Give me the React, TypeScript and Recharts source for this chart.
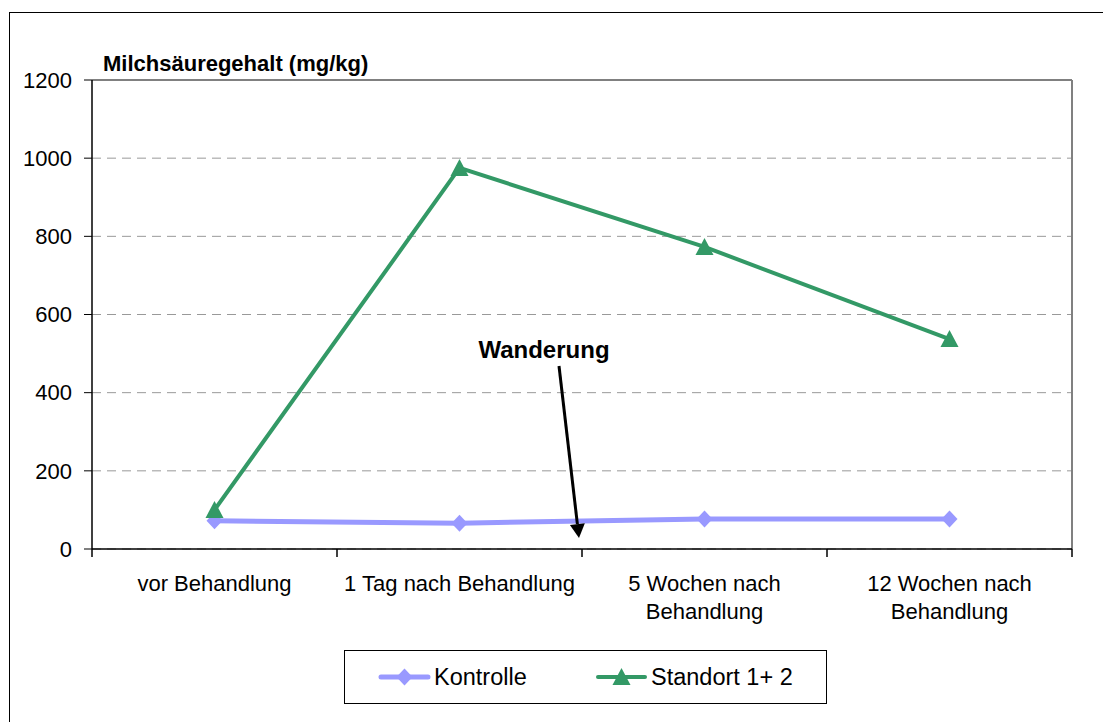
import React from 'react'
import { LineChart, Line, XAxis, YAxis, CartesianGrid, ReferenceLine } from 'recharts'

// Milchsäuregehalt über die Zeit
const categories = ['vor Behandlung', '1 Tag nach Behandlung', '5 Wochen nach Behandlung', '12 Wochen nach Behandlung']
const categoryLines = [['vor Behandlung'], ['1 Tag nach Behandlung'], ['5 Wochen nach', 'Behandlung'], ['12 Wochen nach', 'Behandlung']]
const kontrolle = [72, 66, 77, 77]
const standort = [100, 975, 773, 537]
const yTicks = [0, 200, 400, 600, 800, 1000, 1200]
const boundTicks = [0, 1, 2, 3, 4]
const labelTicks = [0.5, 1.5, 2.5, 3.5]

const FONT = '"Liberation Sans", Arial, sans-serif'
const KONTROLLE_COLOR = '#9999ff'
const STANDORT_COLOR = '#339966'

const data = categories.map((name, i) => ({
  pos: i + 0.5,
  name,
  kontrolle: kontrolle[i],
  standort: standort[i],
}))

const Diamond = (props: any) => {
  const { cx, cy, index } = props
  if (cx == null || cy == null) return null
  return <path key={`d-${index}`} d={`M${cx},${cy - 8.5}L${cx + 8},${cy}L${cx},${cy + 8.5}L${cx - 8},${cy}Z`} fill={KONTROLLE_COLOR} />
}

const Triangle = (props: any) => {
  const { cx, cy, index } = props
  if (cx == null || cy == null) return null
  return <path key={`t-${index}`} d={`M${cx},${cy - 9}L${cx + 9},${cy + 8}L${cx - 9},${cy + 8}Z`} fill={STANDORT_COLOR} />
}

const CategoryTick = (props: any) => {
  const { x, y, index } = props
  const lines = categoryLines[index] || []
  return (
    <text x={x} y={y} textAnchor="middle" fill="#000" fontSize={22} fontFamily={FONT}>
      {lines.map((l, i) => (
        <tspan key={i} x={x} y={y + 41 + i * 28}>{l}</tspan>
      ))}
    </text>
  )
}

// boundary ticks carry no label, only the tick mark
const EmptyTick = () => <g />

const Overlay = () => {
  // arrow for the "Wanderung" annotation
  const x1 = 559, y1 = 366, x2 = 579, y2 = 538
  const len = Math.hypot(x2 - x1, y2 - y1)
  const ux = (x2 - x1) / len, uy = (y2 - y1) / len
  const hl = 14, hw = 7.5
  const bx = x2 - ux * hl, by = y2 - uy * hl
  const head = `M${x2},${y2}L${bx - uy * hw},${by + ux * hw}L${bx + uy * hw},${by - ux * hw}Z`
  return (
    <svg width={1103} height={722} style={{ position: 'absolute', left: 0, top: 0, pointerEvents: 'none' }}>
      <text x={103} y={71} fontSize={22} fontWeight="bold" fontFamily={FONT} fill="#000">Milchsäuregehalt (mg/kg)</text>
      <text x={544} y={358} fontSize={24} fontWeight="bold" fontFamily={FONT} fill="#000" textAnchor="middle">Wanderung</text>
      <line x1={x1} y1={y1} x2={bx} y2={by} stroke="#000" strokeWidth={3} />
      <path d={head} fill="#000" />

      {/* legend */}
      <rect x={344.5} y={650.5} width={482} height={53} fill="#fff" stroke="#000" strokeWidth={1} />
      <line x1={381} y1={677} x2={428} y2={677} stroke={KONTROLLE_COLOR} strokeWidth={5} strokeLinecap="round" />
      <Diamond cx={404.5} cy={677} index={0} />
      <text x={434} y={685} fontSize={23.5} fontFamily={FONT} fill="#000">Kontrolle</text>
      <line x1={598} y1={677} x2={645} y2={677} stroke={STANDORT_COLOR} strokeWidth={4} strokeLinecap="round" />
      <Triangle cx={621.5} cy={677} index={0} />
      <text x={651} y={685} fontSize={23.5} fontFamily={FONT} fill="#000">Standort 1+ 2</text>
    </svg>
  )
}

export default function App() {
  return (
    <div style={{ position: 'absolute', left: 0, top: 0, width: 1103, height: 722, background: '#fff', fontFamily: FONT }}>
      <div style={{ position: 'absolute', left: 9, top: 12, width: 1200, height: 800, border: '1px solid #000' }} />
      <div style={{ position: 'absolute', left: 0, top: 0 }}>
        <LineChart width={1103} height={722} data={data} margin={{ top: 80, right: 31, left: 0, bottom: 92 }}>
          <CartesianGrid xAxisId="bounds" vertical={false} stroke="#999" strokeDasharray="9 6" />
          <XAxis
            xAxisId="bounds"
            dataKey="pos"
            type="number"
            domain={[0, 4]}
            ticks={boundTicks}
            interval={0}
            tick={EmptyTick}
            tickSize={8}
            height={1}
            axisLine={{ stroke: '#000', strokeWidth: 1.5 }}
            tickLine={{ stroke: '#000', strokeWidth: 1.5 }}
          />
          <XAxis
            xAxisId="labels"
            dataKey="pos"
            type="number"
            domain={[0, 4]}
            ticks={labelTicks}
            interval={0}
            tick={<CategoryTick />}
            tickSize={0}
            tickMargin={0}
            height={80}
            axisLine={false}
            tickLine={false}
          />
          <YAxis
            domain={[0, 1200]}
            ticks={yTicks}
            interval={0}
            width={92}
            tickSize={8}
            tickMargin={12}
            axisLine={{ stroke: '#000', strokeWidth: 1.5 }}
            tickLine={{ stroke: '#000' }}
            tick={{ fill: '#000', fontSize: 22, fontFamily: FONT }}
          />
          <ReferenceLine xAxisId="bounds" y={1200} stroke="#808080" strokeWidth={2} />
          <ReferenceLine xAxisId="bounds" x={4} stroke="#808080" strokeWidth={2} />
          <Line
            xAxisId="bounds"
            dataKey="kontrolle"
            name="Kontrolle"
            stroke={KONTROLLE_COLOR}
            strokeWidth={5}
            dot={Diamond}
            activeDot={false}
            isAnimationActive={false}
          />
          <Line
            xAxisId="bounds"
            dataKey="standort"
            name="Standort 1+ 2"
            stroke={STANDORT_COLOR}
            strokeWidth={4}
            dot={Triangle}
            activeDot={false}
            isAnimationActive={false}
          />
        </LineChart>
      </div>
      <Overlay />
    </div>
  )
}
